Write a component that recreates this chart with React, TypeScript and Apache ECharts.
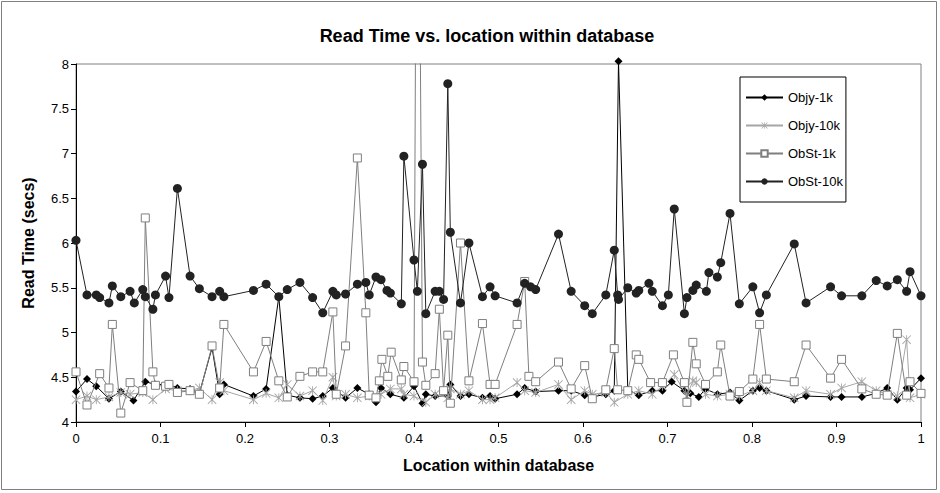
import React, { useEffect, useRef } from "react";
import * as echarts from "echarts";

const TITLE = "Read Time vs. location within database";
const X_NAME = "Location within database";
const Y_NAME = "Read Time (secs)";
const SERIES_NAMES = ["Objy-1k", "Objy-10k", "ObSt-1k", "ObSt-10k"];

const objy1k: [number, number][] = [
  [0, 4.34], [0.013, 4.48], [0.024, 4.4], [0.039, 4.26], [0.053, 4.34], [0.068, 4.24], [0.082, 4.45], [0.094, 4.42],
  [0.11, 4.42], [0.12, 4.38], [0.135, 4.37], [0.146, 4.32], [0.161, 4.83], [0.17, 4.31], [0.175, 4.42], [0.21, 4.29],
  [0.225, 4.37], [0.24, 5.4], [0.25, 4.3], [0.265, 4.27], [0.28, 4.26], [0.292, 4.29], [0.304, 4.38], [0.319, 4.27],
  [0.333, 4.38], [0.347, 4.31], [0.355, 4.22], [0.361, 4.38], [0.372, 4.31], [0.388, 4.27], [0.4, 4.4], [0.41, 4.21],
  [0.414, 4.31], [0.425, 4.29], [0.44, 4.29], [0.443, 4.42], [0.455, 4.29], [0.465, 4.31], [0.481, 4.27], [0.49, 4.29],
  [0.496, 4.26], [0.522, 4.31], [0.531, 4.38], [0.544, 4.34], [0.571, 4.35], [0.586, 4.35], [0.602, 4.3], [0.611, 4.28],
  [0.627, 4.31], [0.637, 4.35], [0.642, 8.03], [0.653, 4.36], [0.666, 4.3], [0.682, 4.35], [0.694, 4.35], [0.705, 4.45],
  [0.72, 4.35], [0.727, 4.32], [0.737, 4.28], [0.745, 4.37], [0.759, 4.31], [0.774, 4.33], [0.785, 4.24], [0.801, 4.35],
  [0.809, 4.38], [0.817, 4.35], [0.85, 4.25], [0.864, 4.29], [0.893, 4.28], [0.906, 4.28], [0.93, 4.28], [0.947, 4.32],
  [0.96, 4.38], [0.972, 4.25], [0.983, 4.38], [0.987, 4.36], [1.0, 4.49],
];

const objy10k: [number, number][] = [
  [0, 4.25], [0.013, 4.29], [0.024, 4.25], [0.039, 4.28], [0.053, 4.33], [0.064, 4.31], [0.079, 4.33], [0.091, 4.25],
  [0.106, 4.37], [0.12, 4.35], [0.135, 4.35], [0.146, 4.38], [0.161, 4.25], [0.17, 4.44], [0.175, 4.35], [0.21, 4.25],
  [0.225, 4.32], [0.24, 4.27], [0.25, 4.42], [0.265, 4.29], [0.28, 4.35], [0.292, 4.24], [0.304, 4.5], [0.308, 4.29],
  [0.319, 4.31], [0.333, 4.27], [0.347, 4.29], [0.361, 4.31], [0.372, 4.37], [0.385, 4.37], [0.388, 4.31], [0.4, 4.29],
  [0.414, 4.22], [0.425, 4.31], [0.44, 4.27], [0.443, 4.37], [0.455, 4.31], [0.465, 4.35], [0.481, 4.25], [0.49, 4.25],
  [0.496, 4.27], [0.522, 4.44], [0.531, 4.35], [0.544, 4.33], [0.571, 4.42], [0.586, 4.25], [0.602, 4.35], [0.611, 4.31],
  [0.627, 4.33], [0.637, 4.22], [0.653, 4.31], [0.666, 4.35], [0.682, 4.31], [0.694, 4.4], [0.708, 4.53], [0.723, 4.29],
  [0.73, 4.46], [0.734, 4.44], [0.745, 4.31], [0.759, 4.29], [0.774, 4.31], [0.785, 4.29], [0.801, 4.35], [0.809, 4.44],
  [0.817, 4.35], [0.85, 4.27], [0.864, 4.35], [0.893, 4.31], [0.906, 4.38], [0.93, 4.45], [0.947, 4.35], [0.96, 4.31],
  [0.972, 4.29], [0.983, 4.92], [0.987, 4.27], [1.0, 4.31],
];

const obst1k: [number, number][] = [
  [0, 4.56], [0.013, 4.19], [0.028, 4.54], [0.039, 4.38], [0.043, 5.09], [0.053, 4.1], [0.064, 4.44], [0.079, 4.35],
  [0.082, 6.28], [0.091, 4.56], [0.094, 4.41], [0.106, 4.4], [0.11, 4.42], [0.12, 4.33], [0.135, 4.35], [0.146, 4.31],
  [0.161, 4.85], [0.17, 4.38], [0.175, 5.09], [0.21, 4.56], [0.225, 4.9], [0.24, 4.46], [0.25, 4.28], [0.265, 4.51],
  [0.28, 4.56], [0.292, 4.56], [0.304, 5.23], [0.308, 4.31], [0.319, 4.85], [0.333, 6.95], [0.343, 5.22], [0.347, 4.3],
  [0.355, 4.27], [0.359, 4.46], [0.362, 4.7], [0.369, 4.51], [0.373, 4.78], [0.385, 4.47], [0.388, 4.62], [0.4, 4.45],
  [0.404, 13], [0.41, 4.67], [0.414, 4.41], [0.425, 4.54], [0.43, 5.26], [0.435, 4.35], [0.44, 4.97], [0.443, 4.21],
  [0.455, 6.0], [0.465, 4.46], [0.481, 5.1], [0.49, 4.42], [0.496, 4.42], [0.522, 5.09], [0.531, 5.57], [0.536, 4.51],
  [0.544, 4.45], [0.571, 4.67], [0.586, 4.37], [0.602, 4.63], [0.611, 4.26], [0.627, 4.36], [0.637, 4.82], [0.641, 4.36],
  [0.653, 4.35], [0.663, 4.75], [0.666, 4.7], [0.68, 4.44], [0.694, 4.44], [0.707, 4.75], [0.72, 4.44], [0.723, 4.22],
  [0.73, 4.89], [0.734, 4.65], [0.745, 4.42], [0.759, 4.56], [0.763, 4.86], [0.774, 4.29], [0.785, 4.34], [0.801, 4.48],
  [0.809, 5.09], [0.817, 4.48], [0.85, 4.45], [0.864, 4.86], [0.893, 4.49], [0.906, 4.7], [0.93, 4.37], [0.947, 4.31],
  [0.96, 4.3], [0.972, 4.99], [0.983, 4.3], [0.987, 4.45], [1.0, 4.32],
];

const obst10k: [number, number][] = [
  [0, 6.03], [0.013, 5.42], [0.024, 5.42], [0.028, 5.39], [0.039, 5.33], [0.043, 5.52], [0.053, 5.4], [0.064, 5.46],
  [0.069, 5.33], [0.079, 5.48], [0.082, 5.4], [0.091, 5.26], [0.094, 5.42], [0.106, 5.63], [0.11, 5.39], [0.12, 6.61],
  [0.135, 5.63], [0.146, 5.49], [0.161, 5.4], [0.17, 5.46], [0.175, 5.4], [0.21, 5.47], [0.225, 5.54], [0.24, 5.4],
  [0.25, 5.48], [0.265, 5.56], [0.28, 5.39], [0.292, 5.22], [0.304, 5.46], [0.308, 5.42], [0.319, 5.43], [0.333, 5.54],
  [0.343, 5.56], [0.347, 5.42], [0.355, 5.62], [0.361, 5.59], [0.368, 5.47], [0.372, 5.44], [0.385, 5.32], [0.388, 6.97],
  [0.4, 5.81], [0.404, 5.46], [0.41, 6.88], [0.414, 5.21], [0.425, 5.46], [0.43, 5.46], [0.435, 5.37], [0.44, 7.78],
  [0.443, 6.12], [0.455, 5.33], [0.465, 6.0], [0.481, 5.4], [0.49, 5.51], [0.496, 5.41], [0.522, 5.33], [0.531, 5.55],
  [0.538, 5.51], [0.544, 5.48], [0.571, 6.1], [0.586, 5.46], [0.602, 5.3], [0.611, 5.21], [0.627, 5.42], [0.637, 5.92],
  [0.641, 5.42], [0.642, 5.37], [0.653, 5.5], [0.663, 5.44], [0.666, 5.47], [0.678, 5.55], [0.682, 5.46], [0.694, 5.3],
  [0.701, 5.42], [0.708, 6.38], [0.72, 5.21], [0.723, 5.39], [0.73, 5.47], [0.734, 5.53], [0.746, 5.46], [0.749, 5.67],
  [0.759, 5.62], [0.763, 5.78], [0.774, 6.33], [0.785, 5.32], [0.801, 5.51], [0.809, 5.22], [0.817, 5.42], [0.85, 5.99],
  [0.864, 5.33], [0.893, 5.51], [0.906, 5.41], [0.93, 5.41], [0.947, 5.58], [0.96, 5.52], [0.972, 5.59], [0.983, 5.46],
  [0.987, 5.68], [1.0, 5.41],
];

const ASTERISK =
  "path://M4.5 0L5.5 0L5.5 10L4.5 10Z M0 0.7L0.7 0L10 9.3L9.3 10Z M9.3 0L10 0.7L0.7 10L0 9.3Z";

const FONT = "'Liberation Sans', Arial, sans-serif";

export default function App() {
  const ref = useRef<HTMLDivElement>(null);
  useEffect(() => {
    if (!ref.current) return;
    const chart = echarts.init(ref.current, null, { renderer: "svg" });
    chart.setOption({
      animation: false,
      backgroundColor: "#ffffff",
      textStyle: { fontFamily: FONT },
      title: {
        text: TITLE,
        left: 482,
        textAlign: "center",
        top: 22,
        textStyle: { fontFamily: FONT, fontSize: 18, fontWeight: "bold", color: "#000" },
      },
      graphic: [
        {
          type: "rect",
          shape: { x: 1.5, y: 1.5, width: 935, height: 488 },
          style: { fill: "none", stroke: "#808080", lineWidth: 1 },
          silent: true,
          z: -1,
        },
      ],
      legend: {
        orient: "vertical",
        left: 740,
        top: 77,
        padding: [14, 3, 14, 5],
        itemGap: 15,
        itemWidth: 37,
        itemHeight: 8,
        backgroundColor: "#fff",
        borderColor: "#000",
        borderWidth: 1,
        textStyle: { fontFamily: FONT, fontSize: 13, color: "#000" },
        data: SERIES_NAMES,
      },
      grid: {
        left: 76,
        right: 19,
        top: 64,
        bottom: 71,
        show: true,
        borderColor: "#808080",
        borderWidth: 1,
      },
      xAxis: {
        type: "value",
        min: 0,
        max: 1,
        interval: 0.1,
        name: X_NAME,
        nameLocation: "middle",
        nameGap: 35,
        nameTextStyle: { fontFamily: FONT, fontSize: 16, fontWeight: "bold", color: "#000" },
        axisLine: { show: true, lineStyle: { color: "#000", width: 1 } },
        axisTick: { show: true, length: 5, lineStyle: { color: "#000" } },
        axisLabel: { fontFamily: FONT, fontSize: 13, color: "#000", margin: 10 },
        splitLine: { show: false },
      },
      yAxis: {
        type: "value",
        min: 4,
        max: 8,
        interval: 0.5,
        name: Y_NAME,
        nameLocation: "middle",
        nameGap: 40,
        nameTextStyle: { fontFamily: FONT, fontSize: 16, fontWeight: "bold", color: "#000" },
        axisLine: { show: true, lineStyle: { color: "#000", width: 1 } },
        axisTick: { show: true, length: 5, lineStyle: { color: "#000" } },
        axisLabel: { fontFamily: FONT, fontSize: 13, color: "#000", margin: 7 },
        splitLine: { show: false },
      },
      series: [
        {
          name: SERIES_NAMES[0],
          type: "line",
          data: objy1k,
          symbol: "diamond",
          symbolSize: 8,
          itemStyle: { color: "#000" },
          lineStyle: { color: "#000", width: 1 },
          emphasis: { disabled: true },
          clip: false,
          z: 2,
        },
        {
          name: SERIES_NAMES[1],
          type: "line",
          data: objy10k,
          symbol: ASTERISK,
          symbolSize: 9,
          itemStyle: { color: "#a6a6a6" },
          lineStyle: { color: "#a6a6a6", width: 1 },
          emphasis: { disabled: true },
          clip: true,
          z: 3,
        },
        {
          name: SERIES_NAMES[2],
          type: "line",
          data: obst1k,
          symbol: "rect",
          symbolSize: 8,
          itemStyle: { color: "#ffffff", borderColor: "#7f7f7f", borderWidth: 1 },
          lineStyle: { color: "#7f7f7f", width: 1 },
          emphasis: { disabled: true },
          clip: true,
          z: 4,
        },
        {
          name: SERIES_NAMES[3],
          type: "line",
          data: obst10k,
          symbol: "circle",
          symbolSize: 9,
          itemStyle: { color: "#222" },
          lineStyle: { color: "#222", width: 1 },
          emphasis: { disabled: true },
          clip: true,
          z: 5,
        },
      ],
    });
    return () => chart.dispose();
  }, []);
  return (
    <div style={{ position: "fixed", left: 0, top: 0, width: 940, height: 493, background: "#fff" }}>
      <div ref={ref} style={{ width: 940, height: 493 }} />
    </div>
  );
}
